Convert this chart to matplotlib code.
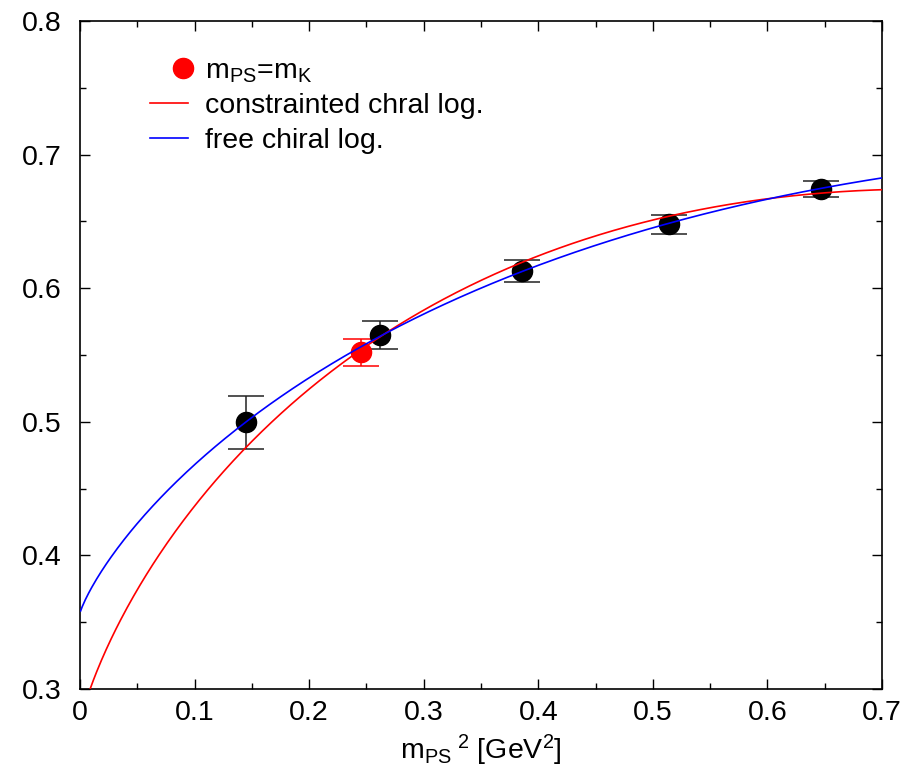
import matplotlib

matplotlib.use("Agg")
import matplotlib.pyplot as plt
import numpy as np
from matplotlib.legend_handler import HandlerLine2D
from matplotlib.lines import Line2D
from matplotlib.ticker import MultipleLocator, FuncFormatter

plt.rcParams["font.family"] = ["Liberation Sans", "DejaVu Sans"]
plt.rcParams["mathtext.fontset"] = "custom"
plt.rcParams["mathtext.rm"] = "Liberation Sans"
plt.rcParams["mathtext.it"] = "Liberation Sans"

# lattice points: m_PS^2 [GeV^2] vs value, with errors
mps2 = [0.145, 0.262, 0.386, 0.514, 0.647]
val = [0.500, 0.565, 0.613, 0.648, 0.674]
err_lo = [0.020, 0.0105, 0.0085, 0.0075, 0.006]
err_hi = [0.019, 0.0105, 0.0080, 0.0070, 0.006]

# interpolated kaon point
mk2 = [0.245]
val_k = [0.552]
err_k = [0.010]

# chiral log fits: y = a + b * x ln x + c * x
fit_constrained = {"a": 0.274, "b": -0.544, "c": 0.377}
fit_free = {"a": 0.357, "b": -0.331, "c": 0.347}

FS = 20.5


def chiral_log(x, a, b, c):
    return a + b * x * np.log(x) + c * x


xs = np.linspace(0.0005, 0.7, 500)

fig = plt.figure(figsize=(9.22, 7.72), dpi=100)
ax = fig.add_axes([0.0868, 0.1075, 0.8698, 0.8653])

ax.plot(xs, chiral_log(xs, **fit_constrained), color="#ff0000", lw=1.2, zorder=3)
ax.plot(xs, chiral_log(xs, **fit_free), color="#0000ff", lw=1.2, zorder=3)

ax.errorbar(mps2, val, yerr=[err_lo, err_hi], fmt="o", ms=14.5, color="black",
            ecolor="#222222", elinewidth=1.1, capsize=13, capthick=1.1, zorder=2)
ax.errorbar(mk2, val_k, yerr=[err_k, err_k], fmt="o", ms=14.5, color="#ff0000",
            ecolor="#ff0000", elinewidth=1.1, capsize=13, capthick=1.1, zorder=2)

ax.set_xlim(0, 0.7)
ax.set_ylim(0.3, 0.8)
ax.xaxis.set_major_locator(MultipleLocator(0.1))
ax.xaxis.set_minor_locator(MultipleLocator(0.05))
ax.yaxis.set_major_locator(MultipleLocator(0.1))
ax.yaxis.set_minor_locator(MultipleLocator(0.05))
fmt = FuncFormatter(lambda v, p: f"{v:g}")
ax.xaxis.set_major_formatter(fmt)
ax.yaxis.set_major_formatter(fmt)
ax.tick_params(which="both", direction="in", top=True, right=True, width=1.0)
ax.tick_params(which="major", length=7, labelsize=FS)
ax.tick_params(axis="x", which="major", pad=8)
ax.tick_params(axis="y", which="major", pad=13)
ax.tick_params(which="minor", length=4)
for s in ax.spines.values():
    s.set_linewidth(1.2)

ax.set_xlabel(r"m$_{\mathrm{PS}}$$^{\ 2}$ [GeV$^2$]", fontsize=FS, labelpad=5)

handles = [
    Line2D([], [], marker="o", ls="none", color="#ff0000", ms=14.5),
    Line2D([], [], color="#ff0000", lw=1.2),
    Line2D([], [], color="#0000ff", lw=1.2),
]
labels = [r"m$_{\mathrm{PS}}$=m$_{\mathrm{K}}$", "constrainted chral log.",
          "free chiral log."]
ax.legend(handles, labels, loc="upper left", bbox_to_anchor=(0.087, 0.944),
          frameon=False, fontsize=FS, handlelength=1.33, handletextpad=0.6,
          labelspacing=0.3, borderpad=0, borderaxespad=0,
          handler_map={handles[0]: HandlerLine2D(xpad=1.0)})

fig.savefig("out.png", dpi=100)
